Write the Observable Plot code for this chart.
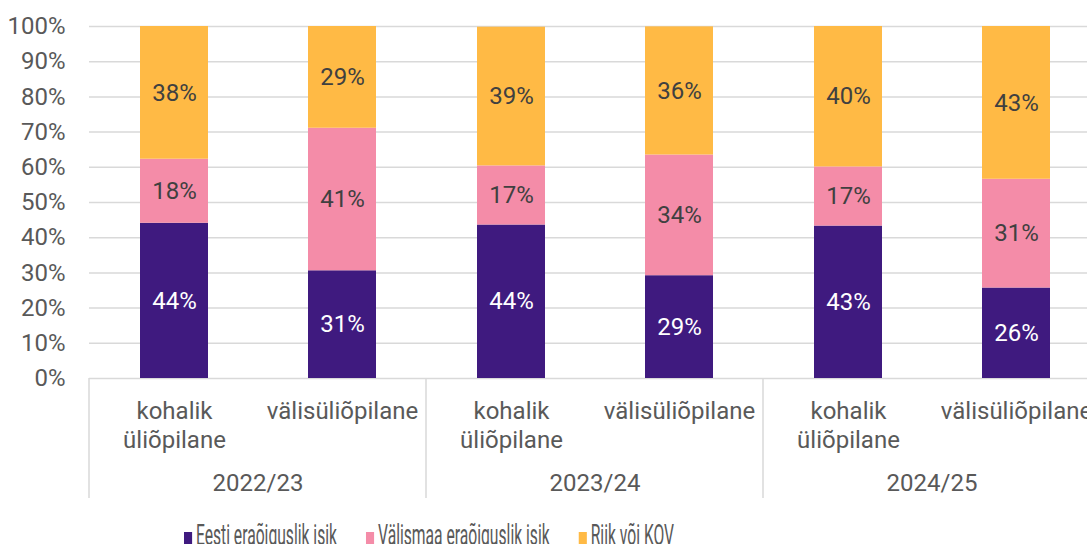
<!DOCTYPE html>
<html>
<head>
<meta charset="utf-8">
<script src="https://cdn.jsdelivr.net/npm/d3@7"></script>
<script src="https://cdn.jsdelivr.net/npm/@observablehq/plot@0.6"></script>
<style>
  html, body { margin: 0; padding: 0; background: #fff; overflow: hidden; width: 1087px; height: 544px; }
  #chart { position: relative; width: 1087px; height: 544px; overflow: hidden; font-family: Roboto, sans-serif; }
  #chart svg { max-width: none !important; height: 505px !important; }
  #legend { position: absolute; left: 184px; top: 521px; display: flex; align-items: center; transform-origin: left center; transform: scaleX(0.54); white-space: nowrap; color: #595959; font-size: 29px; line-height: 29px; font-family: Roboto, sans-serif; }
  .item { display: flex; align-items: center; margin-right: 54px; }
  .sw { width: 15px; height: 12px; margin-right: 7px; margin-top: 5px; }
</style>
</head>
<body>
<div id="chart"></div>
<script>
const years = ["2022/23", "2023/24", "2024/25"];
const categories = ["kohalik üliõpilane", "välisüliõpilane"];
const categoryLabels = ["kohalik\nüliõpilane", "välisüliõpilane"];
const series = ["Eesti eraõiguslik isik", "Välismaa eraõiguslik isik", "Riik või KOV"];
const colors = ["#3F1A7F", "#F48CA8", "#FFBA45"];
// values in order: 2022/23 kohalik, 2022/23 välis, 2023/24 kohalik, 2023/24 välis, 2024/25 kohalik, 2024/25 välis
const eesti = [44.1, 30.6, 43.6, 29.2, 43.3, 25.7];
const valismaa = [18.2, 40.5, 16.8, 34.3, 16.8, 30.9];
const riik = [37.7, 28.9, 39.4, 36.4, 39.9, 43.4];
const yTicks = [0, 10, 20, 30, 40, 50, 60, 70, 80, 90, 100];

const seriesValues = [eesti, valismaa, riik];
const data = [];
series.forEach((s, si) => {
  years.forEach((yr, yi) => {
    categories.forEach((c, ci) => {
      const v = seriesValues[si][yi * 2 + ci];
      data.push({year: yr, category: c, series: s, value: v, label: Math.round(v) + "%"});
    });
  });
});

const fontSize = 24;
const plot = Plot.plot({
  width: 1100,
  height: 505,
  marginLeft: 88,
  marginRight: 0,
  marginTop: 26,
  marginBottom: 127,
  style: {fontFamily: "Roboto, sans-serif", fontSize: fontSize + "px", color: "#595959", background: "white", maxWidth: "none"},
  fx: {domain: years, padding: 0},
  x: {domain: categories, padding: 0},
  y: {domain: [0, 100]},
  color: {domain: series, range: colors},
  marks: [
    Plot.gridY(yTicks, {stroke: "#d9d9d9", strokeOpacity: 1, strokeWidth: 1.5}),
    Plot.barY(data, Plot.stackY({
      fx: "year", x: "category", y: "value", z: "series", fill: "series",
      order: series, insetLeft: 50, insetRight: 50
    })),
    Plot.text(data, Plot.stackY({
      fx: "year", x: "category", y: "value", z: "series", text: "label",
      order: series,
      fill: d => d.series === series[0] ? "white" : "#404040",
      fontSize: fontSize
    })),
    Plot.axisY(yTicks, {tickSize: 0, tickPadding: 24, tickFormat: d => d + "%", label: null, fontSize: fontSize}),
    Plot.axisX({anchor: "bottom", tickSize: 0, tickPadding: 21, label: null, fontSize: fontSize, lineHeight: 1.17,
      tickFormat: d => categoryLabels[categories.indexOf(d)]}),
    Plot.axisFx({anchor: "bottom", tickSize: 0, tickPadding: 95, label: null, fontSize: fontSize})
  ]
});
plot.style.maxWidth = "none";

// group separator lines below the axis, positioned with the plot's own scales
const fx = plot.scale("fx");
const yScale = plot.scale("y");
const y0 = yScale.apply(0);
const svg = d3.select(plot);
const edges = years.map(y => fx.apply(y)).concat([fx.apply(years[years.length - 1]) + fx.bandwidth]);
svg.append("g")
  .selectAll("line")
  .data(edges)
  .join("line")
  .attr("x1", d => d).attr("x2", d => d)
  .attr("y1", y0).attr("y2", y0 + 120)
  .attr("stroke", "#d9d9d9").attr("stroke-width", 1.5);

const chart = document.getElementById("chart");
chart.appendChild(plot);

const legend = document.createElement("div");
legend.id = "legend";
series.forEach((s, i) => {
  const item = document.createElement("div");
  item.className = "item";
  const sw = document.createElement("div");
  sw.className = "sw";
  sw.style.background = colors[i];
  const t = document.createElement("span");
  t.textContent = s;
  item.appendChild(sw);
  item.appendChild(t);
  legend.appendChild(item);
});
chart.appendChild(legend);
</script>
</body>
</html>
